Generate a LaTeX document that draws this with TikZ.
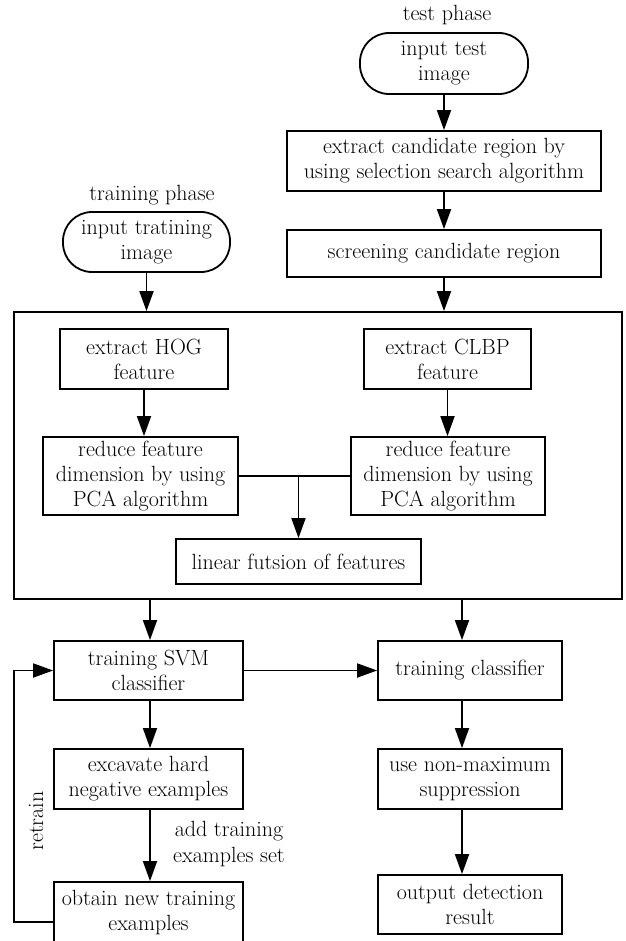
\documentclass[tikz,border=0pt]{standalone}
\usepackage{fontspec}
\setmainfont{Latin Modern Roman}
\usetikzlibrary{arrows.meta}
\tikzset{
  procbox/.style={draw, line width=1.8pt, align=center, inner sep=1pt},
  startbox/.style={procbox, rounded corners=29pt},
  flow/.style={line width=1.8pt, -{Triangle[length=20pt,width=14pt]}},
  plainline/.style={line width=1.8pt}
}
\begin{document}
\begin{tikzpicture}[x=1pt,y=-1pt,font=\fontsize{22}{25}\selectfont]
\useasboundingbox (0,0) rectangle (625,941);
\begin{scope}
\clip (0,0) rectangle (625,941);
% test phase
\node (testlbl) at (447,15) {test phase};
\node[startbox, minimum width=168pt, minimum height=61pt] (intest) at (444,63.5) {input test\\image};
\node[procbox, minimum width=314pt, minimum height=60pt] (cand) at (444,161) {extract candidate region by\\using selection search algorithm};
\node[procbox, minimum width=314pt, minimum height=47pt] (screen) at (444,253.5) {screening candidate region};
% training phase
\node (trainlbl) at (152,195) {training phase};
\node[startbox, minimum width=167pt, minimum height=60pt] (intrain) at (146.5,242) {input tratining\\image};
% feature block
\node[procbox, minimum width=608pt, minimum height=287pt] (featbox) at (318,455.5) {};
\node[procbox, minimum width=168pt, minimum height=60pt] (hog) at (144,359) {extract HOG\\feature};
\node[procbox, minimum width=167pt, minimum height=60pt] (clbp) at (447.5,359) {extract CLBP\\feature};
\node[procbox, minimum width=195pt, minimum height=78pt] (redl) at (140.5,476) {reduce feature\\dimension by using\\PCA algorithm};
\node[procbox, minimum width=194pt, minimum height=78pt] (redr) at (448,476) {reduce feature\\dimension by using\\PCA algorithm};
\node[procbox, minimum width=245pt, minimum height=45pt] (fuse) at (298.5,561.5) {linear futsion of features};
% classifiers
\node[procbox, minimum width=189pt, minimum height=59pt] (svm) at (148.5,670.5) {training SVM\\classifier};
\node[procbox, minimum width=184pt, minimum height=59pt] (tcls) at (470,670.5) {training classifier};
\node[procbox, minimum width=189pt, minimum height=60pt] (hard) at (148.5,779) {excavate hard\\negative examples};
\node[procbox, minimum width=184pt, minimum height=60pt] (nms) at (470,779) {use non-maximum\\suppression};
\node[procbox, minimum width=189pt, minimum height=60pt] (newex) at (148.5,912) {obtain new training\\examples};
\node[procbox, minimum width=184pt, minimum height=59pt] (outres) at (470,904.5) {output detection\\result};
\node[align=center] (addlbl) at (229,844) {add training\\examples set};
\node[rotate=90] (retrainlbl) at (36,821) {retrain};
\coordinate (rcol) at (462,0);
\coordinate (lcol) at (150,0);
\coordinate (loopx) at (14,0);
% connectors
\draw[flow] (intest) -- (cand);
\draw[flow] (cand) -- (screen);
\draw[flow] (screen.south) -- (screen.south |- featbox.north);
\draw[flow] (intrain.south) -- (intrain.south |- featbox.north);
\draw[flow] (hog) -- (hog.south |- redl.north);
\draw[flow] (clbp) -- (clbp.south |- redr.north);
\draw[plainline] (redl.east) -- (redr.west);
\draw[flow] (fuse.north |- redl.east) -- (fuse.north);
\draw[flow] (featbox.south -| lcol) -- (svm.north -| lcol);
\draw[flow] (featbox.south -| rcol) -- (tcls.north -| rcol);
\draw[flow] (svm) -- (tcls);
\draw[flow] (svm.south -| lcol) -- (hard.north -| lcol);
\draw[flow] (hard.south -| lcol) -- (newex.north -| lcol);
\draw[flow] (tcls.south -| rcol) -- (nms.north -| rcol);
\draw[flow] (nms.south -| rcol) -- (outres.north -| rcol);
\draw[flow] ([yshift=-10pt]newex.west) -| (loopx |- svm.west) -- (svm.west);
\end{scope}
\end{tikzpicture}
\end{document}
